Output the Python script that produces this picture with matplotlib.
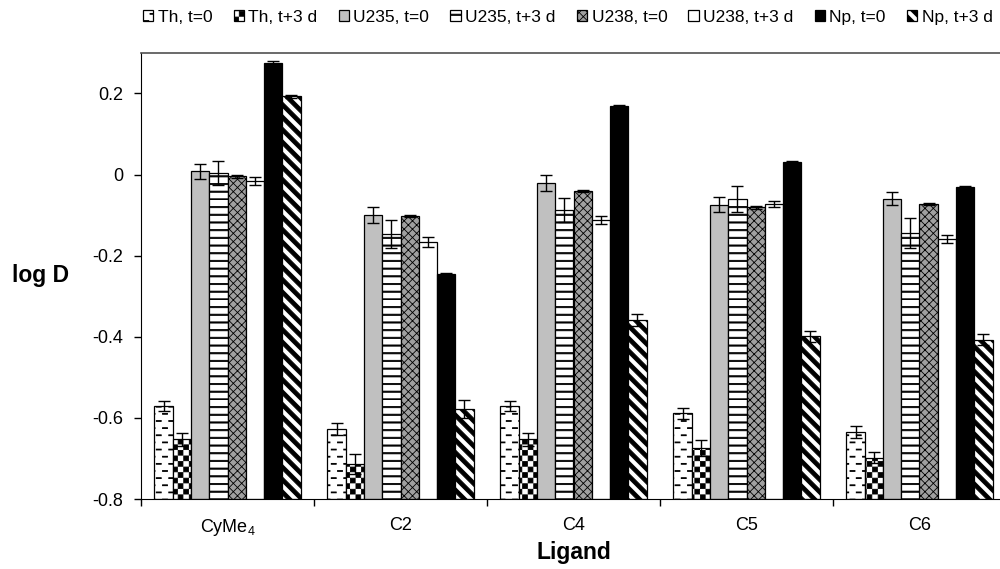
import warnings
import numpy as np
import matplotlib
matplotlib.use("Agg")
import matplotlib.pyplot as plt
from matplotlib import hatch as mhatch
from matplotlib.path import Path
from matplotlib.ticker import FuncFormatter, FixedLocator

warnings.filterwarnings("ignore")

plt.rcParams['font.family'] = ['Liberation Sans', 'DejaVu Sans']
plt.rcParams['mathtext.fontset'] = 'custom'
plt.rcParams['mathtext.rm'] = 'Liberation Sans'
plt.rcParams['hatch.linewidth'] = 0.6

# Ligands on the x axis
ligands = ["CyMe$_4$", "C2", "C4", "C5", "C6"]
series = ["Th, t=0", "Th, t+3 d", "U235, t=0", "U235, t+3 d",
          "U238, t=0", "U238, t+3 d", "Np, t=0", "Np, t+3 d"]

# log D values, one entry per ligand
th_t0 = [-0.571, -0.627, -0.570, -0.589, -0.635]
th_t3 = [-0.653, -0.714, -0.653, -0.675, -0.698]
u235_t0 = [0.008, -0.100, -0.020, -0.074, -0.059]
u235_t3 = [0.004, -0.146, -0.087, -0.060, -0.144]
u238_t0 = [-0.004, -0.102, -0.040, -0.081, -0.072]
u238_t3 = [-0.016, -0.166, -0.111, -0.073, -0.158]
np_t0 = [0.276, -0.246, 0.168, 0.030, -0.030]
np_t3 = [0.193, -0.579, -0.359, -0.399, -0.407]

# standard deviations
th_t0_err = [0.013, 0.015, 0.012, 0.014, 0.015]
th_t3_err = [0.016, 0.025, 0.016, 0.020, 0.014]
u235_t0_err = [0.018, 0.020, 0.020, 0.019, 0.016]
u235_t3_err = [0.030, 0.034, 0.029, 0.033, 0.036]
u238_t0_err = [0.004, 0.003, 0.003, 0.003, 0.003]
u238_t3_err = [0.009, 0.012, 0.010, 0.008, 0.010]
np_t0_err = [0.003, 0.003, 0.003, 0.003, 0.003]
np_t3_err = [0.004, 0.022, 0.014, 0.014, 0.014]

values = [th_t0, th_t3, u235_t0, u235_t3, u238_t0, u238_t3, np_t0, np_t3]
errors = [th_t0_err, th_t3_err, u235_t0_err, u235_t3_err,
          u238_t0_err, u238_t3_err, np_t0_err, np_t3_err]


# --- extra fill patterns (closed polygons, filled by the Agg hatcher) ---
def rect(x, y, w, h):
    return [(x, y), (x + w, y), (x + w, y + h), (x, y + h)]


class FilledHatch(mhatch.HatchPatternBase):
    char = None

    def __init__(self, hatch, density):
        self.polys = self.polygons() if self.char in hatch else []
        self.num_vertices = sum(len(p) + 1 for p in self.polys)

    def set_vertices_and_codes(self, vertices, codes):
        i = 0
        for p in self.polys:
            n = len(p)
            vertices[i:i + n] = p
            vertices[i + n] = p[0]
            codes[i] = Path.MOVETO
            codes[i + 1:i + n] = Path.LINETO
            codes[i + n] = Path.CLOSEPOLY
            i += n + 1


class DashHatch(FilledHatch):
    char = "d"

    def polygons(self):
        rows, cols = 14, 8
        out = []
        for r in range(rows):
            shift = 0.5 if r % 2 else 0.0
            for c in range(-1, cols + 1):
                out.append(rect((c + shift) / cols, r / rows, 0.05, 0.009))
        return out


class CheckerHatch(FilledHatch):
    char = "c"

    def polygons(self):
        n = 18
        s = 1.0 / n
        out = []
        for r in range(n):
            for c in range(r % 2, n, 2):
                out.append(rect(c * s + 0.004, r * s + 0.004, s - 0.008, s - 0.008))
        return out


class StripeHatch(FilledHatch):
    char = "s"

    def polygons(self):
        n, w = 8, 0.055
        out = []
        for k in range(-n, 2 * n + 1):
            c = k / n
            out.append([(c + 0.1, -0.1), (c + w + 0.1, -0.1),
                        (c + w - 1.1, 1.1), (c - 1.1, 1.1)])
        return out


class BandHatch(FilledHatch):
    char = "h"

    def polygons(self):
        n = 13
        return [rect(-0.05, r / n, 1.1, 0.012) for r in range(n)]


mhatch._hatch_types.extend([DashHatch, CheckerHatch, StripeHatch, BandHatch])

styles = [
    dict(color="white", hatch="d"),
    dict(color="white", hatch="c"),
    dict(color="#c0c0c0", hatch=None),
    dict(color="white", hatch="h"),
    dict(color="#a0a0a0", hatch="xxxx"),
    dict(color="white", hatch=None),
    dict(color="black", hatch=None),
    dict(color="white", hatch="s"),
]

fig = plt.figure(figsize=(10, 5.69), dpi=100)
ax = fig.add_axes([0.141, 0.123, 0.865, 0.784])

x = np.arange(len(ligands))
width = 0.1055
base = -0.8
handles = []
for i, (vals, errs, st) in enumerate(zip(values, errors, styles)):
    pos = x + (i - 3.5) * width
    vals = np.array(vals)
    b = ax.bar(pos, vals - base, bottom=base, width=width, color=st["color"],
               hatch=st["hatch"], edgecolor="black", linewidth=0.9, zorder=2)
    ax.errorbar(pos, vals, yerr=errs, fmt="none", ecolor="black",
                elinewidth=1, capsize=4, capthick=1, zorder=3)
    handles.append(b)

ax.set_xlim(-0.5, len(ligands) - 0.5)
ax.set_ylim(-0.8, 0.3)
ax.set_yticks(np.arange(-0.8, 0.21, 0.2))
ax.yaxis.set_major_formatter(FuncFormatter(lambda v, p: "0" if abs(v) < 1e-9 else f"{v:.1f}"))
ax.tick_params(axis="y", direction="out", length=5, width=1, pad=8, labelsize=13)

ax.set_xticks(x)
ax.set_xticklabels(ligands)
ax.xaxis.set_minor_locator(FixedLocator(np.arange(-0.5, len(ligands), 1.0)))
ax.tick_params(axis="x", which="major", length=0, pad=13, labelsize=13)
ax.tick_params(axis="x", which="minor", direction="out", length=5, width=1)

ax.spines["top"].set_color("#505050")
ax.spines["top"].set_linewidth(1.2)
ax.spines["right"].set_visible(False)

ax.set_xlabel("Ligand", fontsize=16.5, fontweight="bold")
ax.xaxis.set_label_coords(0.5, -0.095)
ax.set_ylabel("log D", fontsize=16.5, fontweight="bold", rotation=0, va="center", ha="center")
ax.yaxis.set_label_coords(-0.1156, 0.5)

fig.legend(handles, series, loc="center left", bbox_to_anchor=(0.143, 0.97), ncol=8,
           frameon=False, fontsize=12.5, handlelength=0.6, handleheight=0.6,
           handletextpad=0.25, columnspacing=1.22, borderaxespad=0, borderpad=0)

fig.savefig("out.png", dpi=100)
